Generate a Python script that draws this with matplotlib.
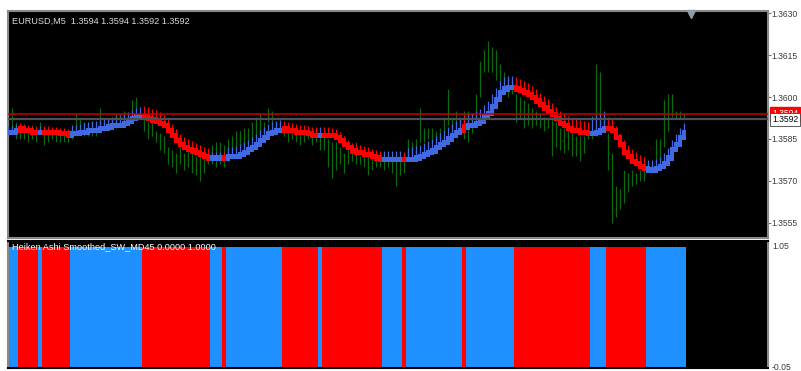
import numpy as np
import matplotlib
matplotlib.use("Agg")
import matplotlib.pyplot as plt
from matplotlib.transforms import blended_transform_factory

# ---------------- data ----------------
symbol_title = "EURUSD,M5  1.3594 1.3594 1.3592 1.3592"
indicator_title = "Heiken Ashi Smoothed_SW_MD45 0.0000 1.0000"
ask_price = 1.3594
bid_price = 1.3592
price_ticks = [1.3555, 1.3570, 1.3585, 1.3600, 1.3615, 1.3630]
sub_top_label = "1.05"
sub_bottom_label = "-0.05"

# trend runs of the Heiken Ashi Smoothed indicator (direction, number of bars)
run_dirs = ["up", "dn", "up", "dn", "up", "dn", "up", "dn", "up", "dn", "up",
            "dn", "up", "dn", "up", "dn", "up", "dn", "up", "dn", "up"]
run_lens = [3, 5, 1, 7, 18, 17, 3, 1, 14, 9, 1, 15, 5, 1, 14, 1, 12, 19, 4, 10, 10]

ha_close = [
    1.35875, 1.35875, 1.35879, 1.35886, 1.35882, 1.35879, 1.35875, 1.35875, 1.35875, 1.35875,
    1.35875, 1.35872, 1.35872, 1.35868, 1.35868, 1.35864, 1.35868, 1.35868, 1.35872, 1.35875,
    1.35879, 1.35882, 1.35882, 1.35886, 1.35889, 1.35893, 1.35897, 1.35900, 1.35900, 1.35907,
    1.35914, 1.35922, 1.35929, 1.35932, 1.35929, 1.35925, 1.35918, 1.35914, 1.35907, 1.35897,
    1.35882, 1.35864, 1.35846, 1.35829, 1.35821, 1.35814, 1.35807, 1.35800, 1.35793, 1.35786,
    1.35782, 1.35782, 1.35782, 1.35782, 1.35782, 1.35786, 1.35786, 1.35789, 1.35796, 1.35803,
    1.35811, 1.35821, 1.35832, 1.35846, 1.35857, 1.35868, 1.35875, 1.35879, 1.35882, 1.35886,
    1.35882, 1.35879, 1.35875, 1.35872, 1.35872, 1.35868, 1.35864, 1.35864, 1.35864, 1.35864,
    1.35864, 1.35861, 1.35857, 1.35846, 1.35832, 1.35818, 1.35807, 1.35803, 1.35800, 1.35796,
    1.35793, 1.35786, 1.35782, 1.35778, 1.35778, 1.35778, 1.35778, 1.35778, 1.35778, 1.35775,
    1.35775, 1.35778, 1.35782, 1.35786, 1.35793, 1.35800, 1.35807, 1.35818, 1.35829, 1.35839,
    1.35850, 1.35861, 1.35872, 1.35882, 1.35893, 1.35897, 1.35900, 1.35907, 1.35914, 1.35929,
    1.35943, 1.35968, 1.35990, 1.36015, 1.36029, 1.36033, 1.36033, 1.36029, 1.36022, 1.36015,
    1.36008, 1.35997, 1.35986, 1.35972, 1.35961, 1.35950, 1.35936, 1.35922, 1.35907, 1.35897,
    1.35889, 1.35882, 1.35879, 1.35875, 1.35872, 1.35868, 1.35868, 1.35872, 1.35879, 1.35886,
    1.35886, 1.35879, 1.35854, 1.35829, 1.35803, 1.35786, 1.35771, 1.35761, 1.35750, 1.35743,
    1.35739, 1.35739, 1.35743, 1.35750, 1.35764, 1.35782, 1.35811, 1.35832, 1.35854, 1.35872,
]

ha_high = [
    1.35897, 1.35897, 1.35901, 1.35908, 1.35904, 1.35901, 1.35897, 1.35897, 1.35897, 1.35897,
    1.35897, 1.35894, 1.35894, 1.35890, 1.35890, 1.35886, 1.35900, 1.35900, 1.35904, 1.35907,
    1.35911, 1.35914, 1.35914, 1.35918, 1.35921, 1.35925, 1.35929, 1.35932, 1.35932, 1.35939,
    1.35946, 1.35954, 1.35961, 1.35964, 1.35969, 1.35965, 1.35958, 1.35954, 1.35947, 1.35937,
    1.35922, 1.35904, 1.35886, 1.35869, 1.35857, 1.35850, 1.35843, 1.35836, 1.35829, 1.35822,
    1.35818, 1.35804, 1.35804, 1.35804, 1.35804, 1.35822, 1.35822, 1.35825, 1.35832, 1.35839,
    1.35847, 1.35857, 1.35868, 1.35882, 1.35893, 1.35904, 1.35911, 1.35915, 1.35918, 1.35915,
    1.35911, 1.35908, 1.35904, 1.35901, 1.35901, 1.35897, 1.35893, 1.35893, 1.35893, 1.35893,
    1.35893, 1.35890, 1.35886, 1.35875, 1.35861, 1.35847, 1.35836, 1.35832, 1.35829, 1.35825,
    1.35822, 1.35815, 1.35811, 1.35807, 1.35807, 1.35807, 1.35807, 1.35807, 1.35807, 1.35804,
    1.35818, 1.35821, 1.35825, 1.35829, 1.35836, 1.35843, 1.35850, 1.35861, 1.35872, 1.35882,
    1.35893, 1.35904, 1.35915, 1.35925, 1.35936, 1.35940, 1.35943, 1.35950, 1.35957, 1.35972,
    1.35986, 1.36011, 1.36033, 1.36058, 1.36072, 1.36076, 1.36076, 1.36072, 1.36065, 1.36058,
    1.36051, 1.36040, 1.36029, 1.36015, 1.36004, 1.35993, 1.35979, 1.35965, 1.35950, 1.35940,
    1.35932, 1.35925, 1.35922, 1.35918, 1.35915, 1.35911, 1.35933, 1.35937, 1.35944, 1.35951,
    1.35929, 1.35922, 1.35897, 1.35872, 1.35846, 1.35829, 1.35814, 1.35804, 1.35793, 1.35786,
    1.35774, 1.35774, 1.35778, 1.35785, 1.35799, 1.35817, 1.35846, 1.35867, 1.35889, 1.35907,
]

bar_high = [
    1.3594, 1.3596, 1.3591, 1.3590, 1.3590, 1.3589, 1.3590, 1.3589, 1.3591, 1.3588,
    1.3588, 1.3588, 1.3587, 1.3588, 1.3587, 1.3587, 1.3588, 1.3594, 1.3592, 1.3591,
    1.3590, 1.3591, 1.3590, 1.3596, 1.3591, 1.3591, 1.3591, 1.3594, 1.3594, 1.3595,
    1.3594, 1.3599, 1.3600, 1.3595, 1.3592, 1.3591, 1.3591, 1.3588, 1.3587, 1.3586,
    1.3582, 1.3581, 1.3580, 1.3582, 1.3580, 1.3581, 1.3580, 1.3579, 1.3579, 1.3578,
    1.3579, 1.3583, 1.3584, 1.3584, 1.3583, 1.3585, 1.3586, 1.3588, 1.3588, 1.3589,
    1.3589, 1.3591, 1.3593, 1.3594, 1.3591, 1.3596, 1.3595, 1.3591, 1.3591, 1.3589,
    1.3588, 1.3589, 1.3587, 1.3589, 1.3588, 1.3588, 1.3589, 1.3588, 1.3587, 1.3586,
    1.3585, 1.3584, 1.3584, 1.3582, 1.3580, 1.3581, 1.3583, 1.3584, 1.3579, 1.3580,
    1.3579, 1.3580, 1.3579, 1.3580, 1.3579, 1.3579, 1.3579, 1.3579, 1.3579, 1.3579,
    1.3585, 1.3584, 1.3585, 1.3596, 1.3589, 1.3589, 1.3589, 1.3588, 1.3589, 1.3593,
    1.3603, 1.3592, 1.3595, 1.3593, 1.3595, 1.3595, 1.3594, 1.3601, 1.3613, 1.3617,
    1.3620, 1.3618, 1.3617, 1.3612, 1.3609, 1.3607, 1.3606, 1.3601, 1.3600, 1.3599,
    1.3598, 1.3596, 1.3595, 1.3594, 1.3593, 1.3593, 1.3592, 1.3591, 1.3589, 1.3589,
    1.3588, 1.3587, 1.3586, 1.3586, 1.3586, 1.3588, 1.3588, 1.3612, 1.3609, 1.3594,
    1.3587, 1.3580, 1.3568, 1.3567, 1.3574, 1.3573, 1.3574, 1.3573, 1.3574, 1.3574,
    1.3576, 1.3576, 1.3585, 1.3585, 1.3599, 1.3601, 1.3601, 1.3595, 1.3595, 1.3594,
]

bar_low = [
    1.3588, 1.3589, 1.3585, 1.3585, 1.3585, 1.3584, 1.3585, 1.3584, 1.3587, 1.3583,
    1.3584, 1.3585, 1.3584, 1.3584, 1.3584, 1.3584, 1.3585, 1.3587, 1.3587, 1.3586,
    1.3586, 1.3586, 1.3586, 1.3589, 1.3588, 1.3588, 1.3589, 1.3589, 1.3590, 1.3590,
    1.3591, 1.3593, 1.3593, 1.3592, 1.3588, 1.3585, 1.3586, 1.3584, 1.3581, 1.3580,
    1.3576, 1.3575, 1.3573, 1.3576, 1.3574, 1.3575, 1.3573, 1.3572, 1.3570, 1.3573,
    1.3576, 1.3576, 1.3575, 1.3576, 1.3575, 1.3577, 1.3579, 1.3581, 1.3582, 1.3582,
    1.3582, 1.3585, 1.3586, 1.3586, 1.3587, 1.3591, 1.3590, 1.3587, 1.3587, 1.3586,
    1.3584, 1.3585, 1.3584, 1.3583, 1.3584, 1.3585, 1.3583, 1.3584, 1.3581, 1.3581,
    1.3575, 1.3571, 1.3574, 1.3576, 1.3573, 1.3576, 1.3577, 1.3576, 1.3576, 1.3575,
    1.3572, 1.3574, 1.3575, 1.3575, 1.3574, 1.3575, 1.3573, 1.3568, 1.3572, 1.3573,
    1.3577, 1.3577, 1.3579, 1.3584, 1.3584, 1.3585, 1.3584, 1.3584, 1.3585, 1.3588,
    1.3590, 1.3588, 1.3588, 1.3587, 1.3585, 1.3584, 1.3587, 1.3591, 1.3600, 1.3609,
    1.3609, 1.3609, 1.3606, 1.3604, 1.3601, 1.3600, 1.3601, 1.3591, 1.3592, 1.3589,
    1.3590, 1.3589, 1.3590, 1.3589, 1.3588, 1.3589, 1.3579, 1.3582, 1.3581, 1.3580,
    1.3581, 1.3579, 1.3579, 1.3577, 1.3580, 1.3585, 1.3585, 1.3586, 1.3588, 1.3588,
    1.3574, 1.3555, 1.3557, 1.3560, 1.3562, 1.3566, 1.3568, 1.3569, 1.3570, 1.3570,
    1.3574, 1.3573, 1.3576, 1.3577, 1.3582, 1.3588, 1.3593, 1.3592, 1.3592, 1.3592,
]

# ---------------- styling ----------------
BG = "black"
GREEN = "#0b6a0b"
RED = "#ff0000"
ROYAL = "#4169e1"
DODGER = "#1e90ff"
FRAME = "#8a8a8a"
TXT = "#3a3a3a"
FONT = "Liberation Sans"

W, H = 801, 371
fig = plt.figure(figsize=(W / 100, H / 100), dpi=100, facecolor="white")

def fx(px):
    return px / W

def fy(px):
    return 1 - px / H

ax1 = fig.add_axes([fx(8), fy(238), fx(760), 227 / H], facecolor=BG)
ax2 = fig.add_axes([fx(8), fy(368), fx(760), 127 / H], facecolor=BG)

n = len(ha_close)
x = np.arange(n)
dirs = np.concatenate([[d] * k for d, k in zip(run_dirs, run_lens)])
assert len(dirs) == n == len(ha_high) == len(bar_high) == len(bar_low)

# ----- main price window -----
ax1.set_xlim(0, 190)
ax1.set_ylim(1.354956, 1.363082)

ax1.vlines(x, bar_low, bar_high, colors=GREEN, linewidth=0.9, zorder=2)

close = np.array(ha_close)
opn = np.concatenate([[close[0]], close[:-1]])
pad = 0.00009
lo = np.minimum(opn, close) - pad
hi = np.maximum(opn, close) + pad
ribbon_cols = [ROYAL if d == "up" else RED for d in dirs]
wick_top = np.maximum(np.array(ha_high), hi)
ax1.vlines(x, hi, wick_top, colors=ribbon_cols, linewidth=0.9, zorder=3)
ax1.bar(x, hi - lo, bottom=lo, width=1.0, color=ribbon_cols, linewidth=0, zorder=4)

ax1.axhline(ask_price, color="#c80000", linewidth=1.1, zorder=6)
ax1.axhline(bid_price, color="#4b5056", linewidth=1.6, zorder=6)

ax1.set_xticks([])
ax1.yaxis.tick_right()
ax1.set_yticks(price_ticks)
ax1.set_yticklabels([f"{t:.4f}" for t in price_ticks], fontsize=6.2,
                    family=FONT, color=TXT)
ax1.tick_params(axis="y", length=2.0, width=0.8, color="#707070", pad=0.8)
for s in ax1.spines.values():
    s.set_color(FRAME)
    s.set_linewidth(1.5)

ax1.text(4 / 760, 0.955, symbol_title, transform=ax1.transAxes,
         color="#d8d8d8", fontsize=6.6, family=FONT, va="center", ha="left")

tr = blended_transform_factory(ax1.transAxes, ax1.transData)
ax1.text(1.0 + 4 / 760, ask_price, f"{ask_price:.4f}", transform=tr, color="white",
         fontsize=6.2, family=FONT, va="center", ha="left", zorder=10, clip_on=False,
         bbox=dict(boxstyle="square,pad=0.25", facecolor="#ff0000", edgecolor="#ff0000"))
ax1.text(1.0 + 4 / 760, bid_price, f"{bid_price:.4f}", transform=tr, color="black",
         fontsize=6.2, family=FONT, va="center", ha="left", zorder=11, clip_on=False,
         bbox=dict(boxstyle="square,pad=0.25", facecolor="white", edgecolor="#404040",
                   linewidth=0.6))

# chart-shift marker at top
ax1.plot([(691 - 8) / 760], [1 - 3 / 227], marker="v", markersize=5.5,
         color="#8e9cab", transform=ax1.transAxes, clip_on=False, zorder=8)

# ----- indicator sub-window -----
ax2.set_xlim(0, 190)
ax2.set_ylim(0, 1.05)
up_vals = np.where(dirs == "up", 1.0, 0.0)
dn_vals = np.where(dirs == "dn", 1.0, 0.0)
ax2.bar(x, up_vals, width=1.0, color=DODGER, linewidth=0)
ax2.bar(x, dn_vals, width=1.0, color=RED, linewidth=0)
ax2.set_xticks([])
ax2.set_yticks([])
for k, s in ax2.spines.items():
    s.set_color(FRAME if k in ("left", "right") else "black")
    s.set_linewidth(1.5)
ax2.text(4 / 760, 0.955, indicator_title, transform=ax2.transAxes, color="white",
         fontsize=6.6, family=FONT, va="center", ha="left")
ax2.text(1.0 + 4 / 760, 0.955, sub_top_label, transform=ax2.transAxes, color=TXT,
         fontsize=6.2, family=FONT, va="center", ha="left", clip_on=False)
ax2.text(1.0 + 4 / 760, 0.0, sub_bottom_label, transform=ax2.transAxes, color=TXT,
         fontsize=6.2, family=FONT, va="center", ha="left", clip_on=False)

fig.savefig("out.png", dpi=100, facecolor="white")
